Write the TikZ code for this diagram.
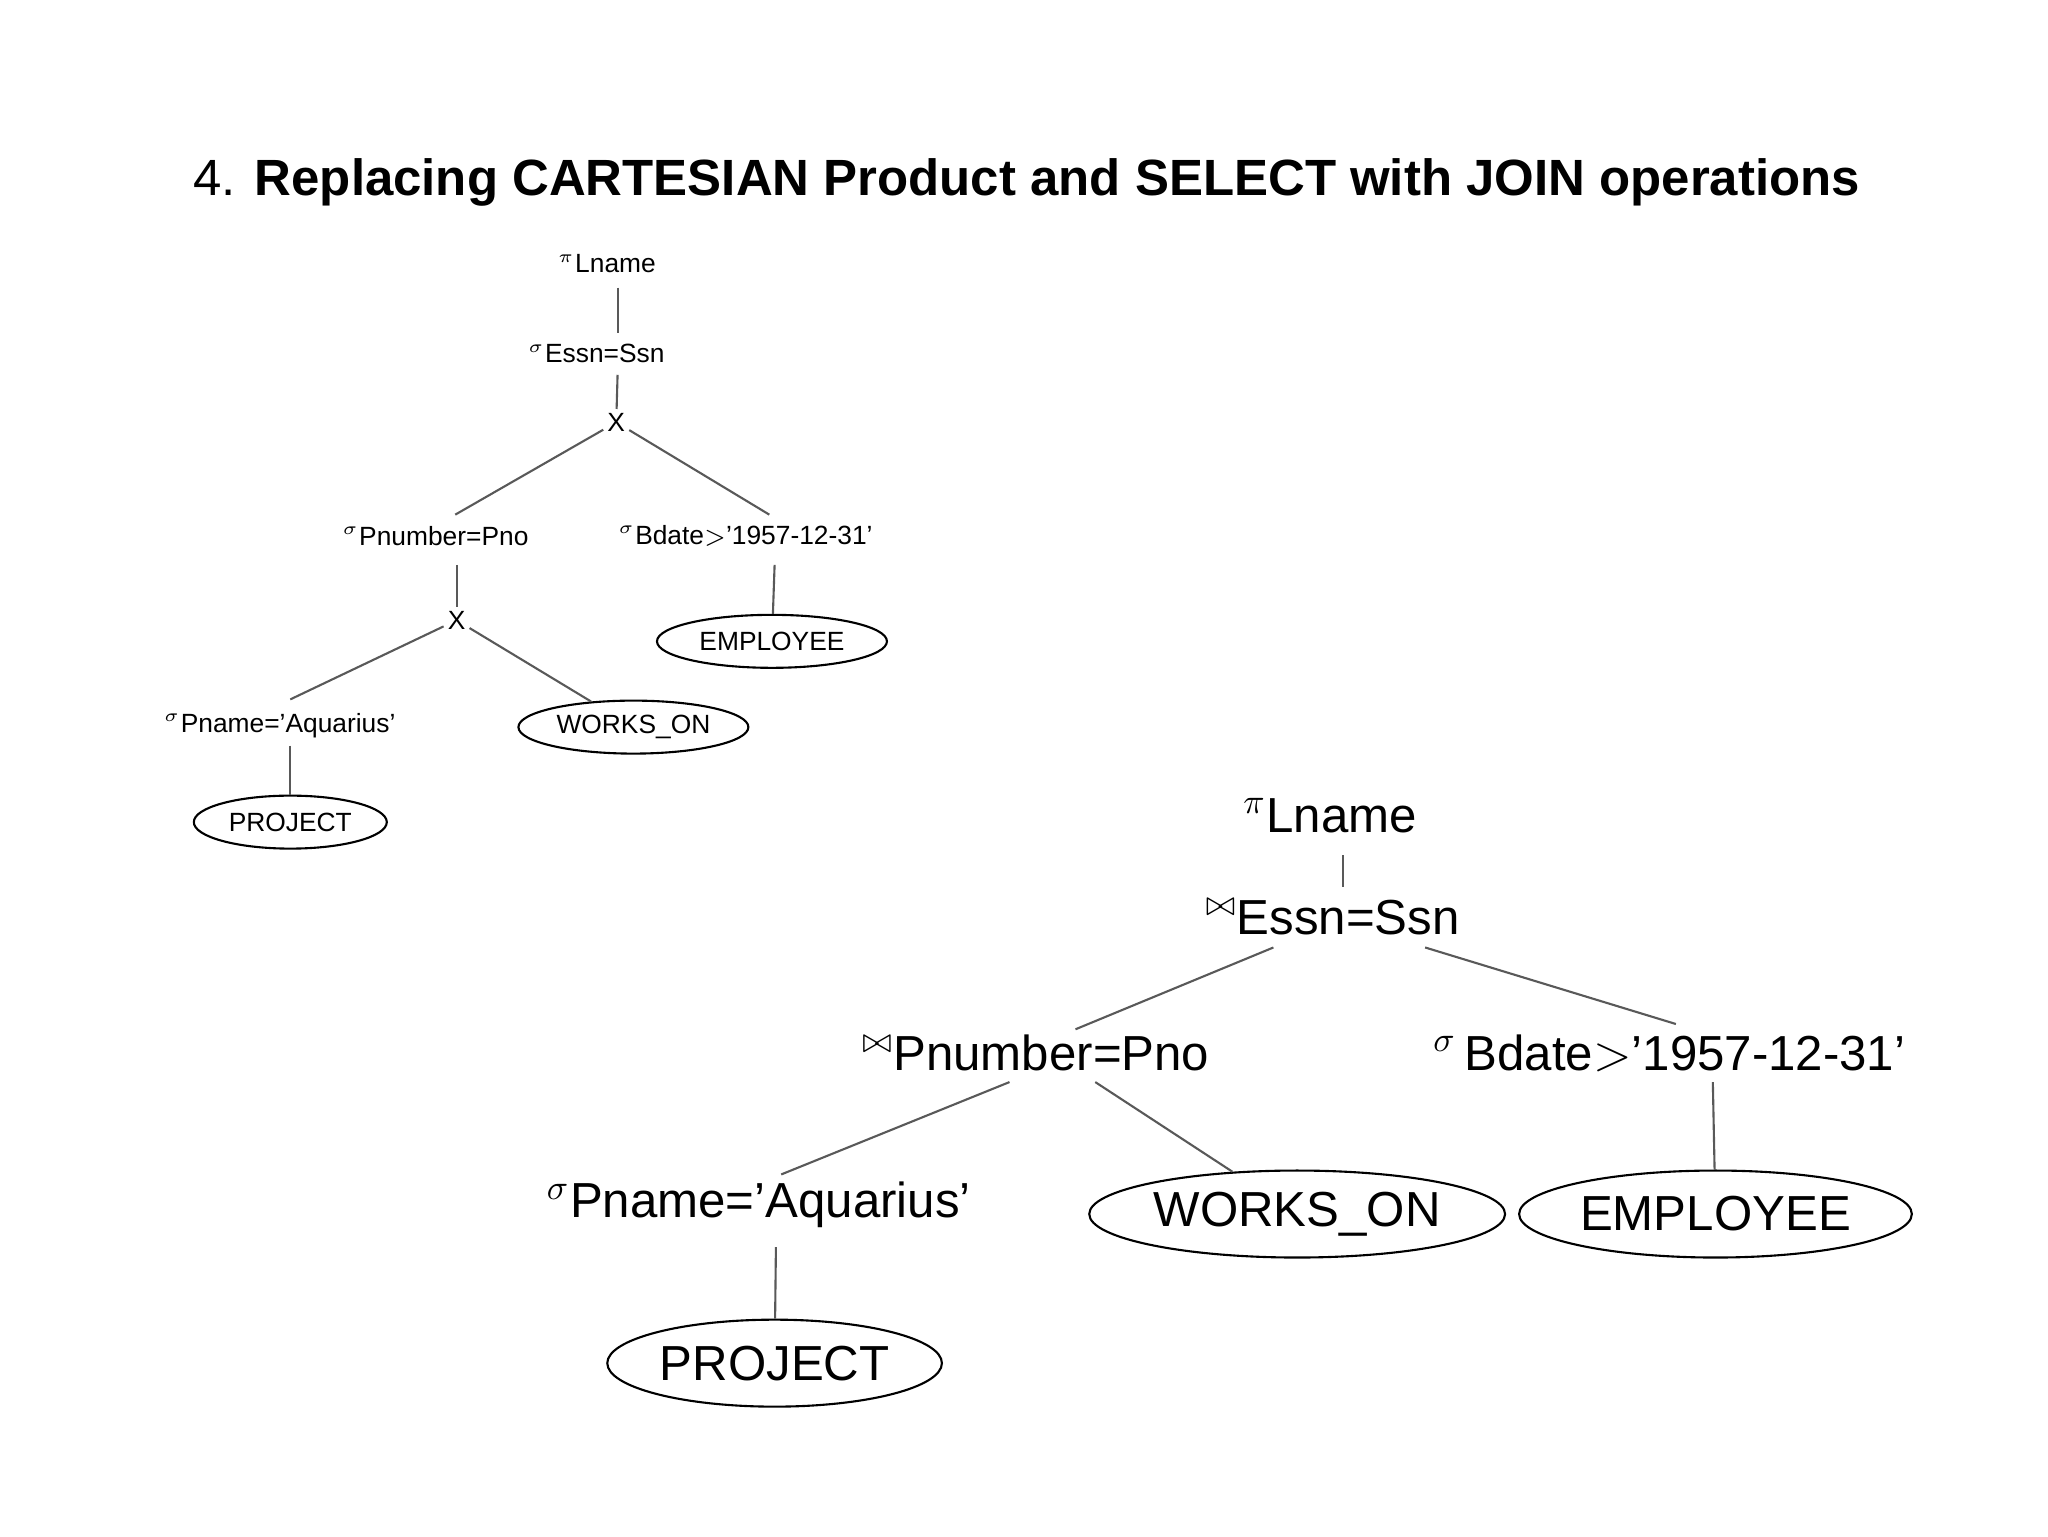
\documentclass[tikz,border=0pt]{standalone}
\usepackage{fontspec}
\setmainfont{Liberation Sans}
\usetikzlibrary{shapes.geometric}
\begin{document}
\begin{tikzpicture}[x=0.0132cm,y=-0.0132cm,
  sm/.style={font=\fontsize{7.5}{9}\selectfont,inner sep=1pt},
  lg/.style={font=\fontsize{14}{16}\selectfont,inner sep=1pt},
  rel/.style={ellipse,draw,line width=0.6pt},
  ln/.style={line width=0.6pt,gray!70!black}]
\useasboundingbox (0,0) rectangle (1552,1164);
\node[font=\fontsize{14.5}{17}\selectfont\bfseries] (title) at (778,138) {\mdseries 4. \bfseries Replacing CARTESIAN Product and SELECT with JOIN operations};
% small tree
\node[sm] (a1) at (460,200) {\textsuperscript{$\pi$}Lname};
\node[sm] (a2) at (452,268) {\textsuperscript{$\sigma$}Essn=Ssn};
\node[sm] (a3) at (467,320) {X};
\node[sm] (a4) at (330,406) {\textsuperscript{$\sigma$}Pnumber=Pno};
\node[sm] (a5) at (565,406) {\textsuperscript{$\sigma$}Bdate$>$'1957-12-31'};
\node[sm] (a6) at (346,470) {X};
\node[sm,rel,minimum width=176\pgflinewidth,minimum width=2.3cm,minimum height=0.53cm] (a7) at (585,486) {EMPLOYEE};
\node[sm] (a8) at (212,550) {\textsuperscript{$\sigma$}Pname='Aquarius'};
\node[sm,rel,minimum width=2.3cm,minimum height=0.53cm] (a9) at (480,551) {WORKS\_ON};
\node[sm,rel,minimum width=1.93cm,minimum height=0.53cm] (a10) at (220,623) {PROJECT};
\draw[ln] (468,218) -- (468,252);
\draw[ln] (468,284) -- (a3);
\draw[ln] (a3) -- (345,390);
\draw[ln] (a3) -- (583,390);
\draw[ln] (346,428) -- (a6);
\draw[ln] (587,428) -- (a7);
\draw[ln] (a6) -- (220,530);
\draw[ln] (a6) -- (a9);
\draw[ln] (220,565) -- (a10);
% large tree
\node[lg] (b1) at (1008,618) {\textsuperscript{$\pi$}Lname};
\node[lg] (b2) at (1010,695) {\textsuperscript{$\bowtie$}Essn=Ssn};
\node[lg] (b3) at (785,798) {\textsuperscript{$\bowtie$}Pnumber=Pno};
\node[lg] (b4) at (1265,798) {\textsuperscript{$\sigma$}\,Bdate$>$'1957-12-31'};
\node[lg] (b5) at (575,913) {\textsuperscript{$\sigma$}Pname='Aquarius'};
\node[lg,rel,minimum width=3.56cm,minimum height=0.87cm] (b6) at (983,920) {WORKS\_ON};
\node[lg,rel,minimum width=3.56cm,minimum height=0.87cm] (b7) at (1300,920) {EMPLOYEE};
\node[lg,rel,minimum width=2.98cm,minimum height=0.87cm] (b8) at (587,1033) {PROJECT};
\draw[ln] (1018,648) -- (1018,672);
\draw[ln] (965,718) -- (815,780);
\draw[ln] (1080,718) -- (1270,776);
\draw[ln] (765,820) -- (592,890);
\draw[ln] (830,820) -- (b6);
\draw[ln] (1298,820) -- (b7);
\draw[ln] (588,945) -- (b8);
\end{tikzpicture}
\end{document}
